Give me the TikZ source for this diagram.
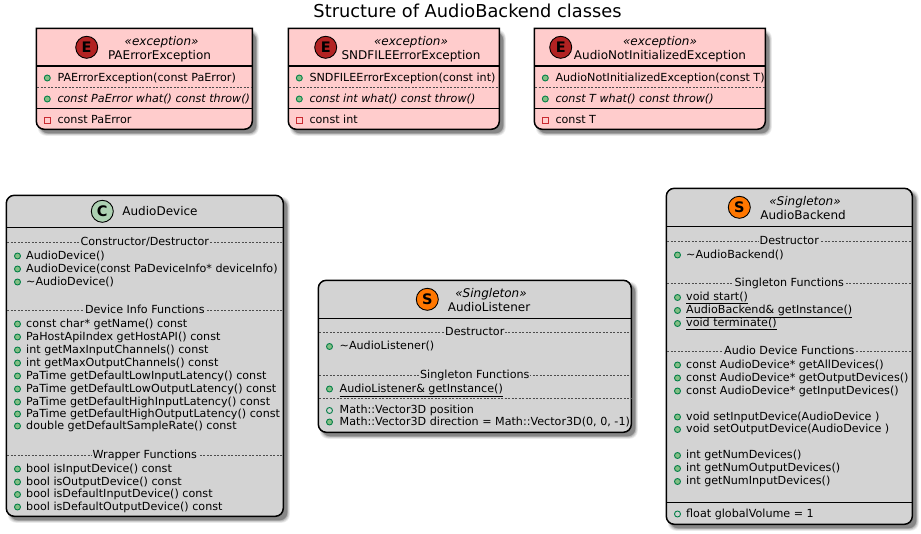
\documentclass[tikz,border=0pt]{standalone}
\usepackage{fontspec}
\setmainfont{DejaVu Sans}
\usetikzlibrary{calc}
\definecolor{exfill}{HTML}{FFCCCC}
\definecolor{grayfill}{HTML}{D3D3D3}
\definecolor{pubfill}{HTML}{84BE84}
\definecolor{publine}{HTML}{038048}
\definecolor{privline}{HTML}{C82930}
\definecolor{spotE}{HTML}{B22222}
\definecolor{spotS}{HTML}{FF7700}
\definecolor{spotC}{HTML}{ADD1B2}
\newcounter{tn}
\tikzset{
  x=1pt,y=-1pt,
  boxline/.style={draw=black,line width=1.5pt},
  headline/.style={draw=black,line width=1.4pt},
  solidsep/.style={draw=black,line width=1pt},
  dashsep/.style={draw=black!70,line width=.6pt,dash pattern=on 2pt off 1.5pt},
  memtext/.style={anchor=base west,inner sep=0pt,font=\fontsize{11.15}{13}\selectfont,text=black},
  nametext/.style={anchor=base,inner sep=0pt,font=\fontsize{12}{14}\selectfont,text=black},
  stereotext/.style={anchor=base,inner sep=0pt,font=\fontsize{12}{14}\selectfont\itshape,text=black},
  sectext/.style={anchor=center,inner sep=1pt,text height=8pt,text depth=2pt,font=\fontsize{11.15}{13}\selectfont,text=black},
  spotnode/.style={circle,draw=black,line width=.9pt,minimum size=22pt,inner sep=0pt,font=\fontsize{14.5}{15}\selectfont\bfseries,text=black},
  pubm/.style={circle,draw=publine,fill=pubfill,line width=.9pt,minimum size=6pt,inner sep=0pt},
  pubf/.style={circle,draw=publine,line width=.9pt,minimum size=6pt,inner sep=0pt},
  privf/.style={rectangle,draw=privline,line width=.9pt,minimum size=6pt,inner sep=0pt},
  titletext/.style={inner sep=0pt,font=\fontsize{17.8}{20}\selectfont,text=black}
}
% soft shadow of a box
\newcommand{\softshadow}[4]{%
  \foreach \d/\o in {2.5/.07,1.8/.09,1.1/.12,.4/.15,0/.17}{%
    \fill[black,opacity=\o,rounded corners=8pt]
      ({#1+4-\d},{#2+4-\d}) rectangle ({#3+4+\d},{#4+4+\d});}%
}
% rounded box
\newcommand{\roundbox}[6]{% name x0 y0 x1 y1 fill
  \softshadow{#2}{#3}{#4}{#5}
  \path[boxline,fill=#6,rounded corners=8pt] (#2,#3) rectangle (#4,#5);
  \coordinate (#1) at ({(#2+#4)/2},{(#3+#5)/2});}
% square-top box
\newcommand{\exbox}[5]{% name x0 y0 x1 y1
  \softshadow{#2}{#3}{#4}{#5}
  \path[boxline,fill=exfill] (#2,#3) -- (#4,#3) [rounded corners=8pt] -- (#4,#5) -- (#2,#5) [sharp corners] -- cycle;
  \coordinate (#1) at ({(#2+#4)/2},{(#3+#5)/2});}
\newcommand{\hln}[4][solidsep]{\draw[#1] (#2,#4) -- (#3,#4);}
\newcommand{\spot}[4]{\stepcounter{tn}\node[spotnode,fill=#4] (n\thetn) at (#1,#2) {#3};}
\newcommand{\lbl}[4]{\stepcounter{tn}\node[#1] (n\thetn) at (#2,#3) {#4};}
% member: bullet style, bullet x, text x, centre y, text
\newcommand{\mem}[5]{\stepcounter{tn}\node[#1] (n\thetn) at (#2,{#4+1}) {};%
  \stepcounter{tn}\node[memtext] (n\thetn) at (#3,{#4+4}) {#5};}
% section: x0 x1 y text fill
\newcommand{\sect}[5]{\draw[dashsep] ({#1+1},#3) -- ({#2-1},#3);%
  \stepcounter{tn}\node[sectext,fill=#5] (n\thetn) at ({(#1+#2)/2},#3) {#4};}
\begin{document}
\begin{tikzpicture}
\useasboundingbox (0,0) rectangle (921,533);
\lbl{titletext}{467.5}{11}{Structure of AudioBackend classes}

% PAErrorException
\exbox{pa}{36.3}{28.3}{252.3}{129.3}
\hln[headline]{36.3}{252.3}{66}
\spot{86.7}{47.3}{E}{spotE}
\lbl{stereotext}{161.6}{45}{«exception»}
\lbl{nametext}{159.5}{59}{PAErrorException}
\mem{pubm}{47.3}{57.3}{77}{PAErrorException(const PaError)}
\hln[dashsep]{37}{252}{87.3}
\mem{pubm}{47.3}{57.3}{98}{\itshape const PaError what() const throw()}
\hln{36.3}{252.3}{108.3}
\mem{privf}{47.3}{57.3}{119}{const PaError}

% SNDFILEErrorException
\exbox{snd}{288.3}{28.3}{499.3}{129.3}
\hln[headline]{288.3}{499.3}{66}
\spot{325.7}{47.3}{E}{spotE}
\lbl{stereotext}{411}{45}{«exception»}
\lbl{nametext}{411}{59}{SNDFILEErrorException}
\mem{pubm}{299.3}{309.3}{77}{SNDFILEErrorException(const int)}
\hln[dashsep]{289}{499}{87.3}
\mem{pubm}{299.3}{309.3}{98}{\itshape const int what() const throw()}
\hln{288.3}{499.3}{108.3}
\mem{privf}{299.3}{309.3}{119}{const int}

% AudioNotInitializedException
\exbox{ani}{534.3}{28.3}{765.3}{129.3}
\hln[headline]{534.3}{765.3}{66}
\spot{560.7}{47.3}{E}{spotE}
\lbl{stereotext}{660}{45}{«exception»}
\lbl{nametext}{660}{59}{AudioNotInitializedException}
\mem{pubm}{545.3}{555.3}{77}{AudioNotInitializedException(const T)}
\hln[dashsep]{535}{765}{87.3}
\mem{pubm}{545.3}{555.3}{98}{\itshape const T what() const throw()}
\hln{534.3}{765.3}{108.3}
\mem{privf}{545.3}{555.3}{119}{const T}

% AudioDevice
\roundbox{dev}{6.3}{195.3}{283.3}{516.3}{grayfill}
\hln[headline]{6.3}{283.3}{227.3}
\spot{102.3}{211.3}{C}{spotC}
\lbl{nametext}{160}{215.5}{AudioDevice}
\sect{6.3}{283.3}{242.3}{Constructor/Destructor}{grayfill}
\mem{pubm}{17.5}{26}{255}{AudioDevice()}
\mem{pubm}{17.5}{26}{268}{AudioDevice(const PaDeviceInfo* deviceInfo)}
\mem{pubm}{17.5}{26}{281}{\textasciitilde AudioDevice()}
\sect{6.3}{283.3}{310}{Device Info Functions}{grayfill}
\mem{pubm}{17.5}{26}{323}{const char* getName() const}
\mem{pubm}{17.5}{26}{336}{PaHostApiIndex getHostAPI() const}
\mem{pubm}{17.5}{26}{349}{int getMaxInputChannels() const}
\mem{pubm}{17.5}{26}{362}{int getMaxOutputChannels() const}
\mem{pubm}{17.5}{26}{375}{PaTime getDefaultLowInputLatency() const}
\mem{pubm}{17.5}{26}{388}{PaTime getDefaultLowOutputLatency() const}
\mem{pubm}{17.5}{26}{401}{PaTime getDefaultHighInputLatency() const}
\mem{pubm}{17.5}{26}{413}{PaTime getDefaultHighOutputLatency() const}
\mem{pubm}{17.5}{26}{425}{double getDefaultSampleRate() const}
\sect{6.3}{283.3}{455}{Wrapper Functions}{grayfill}
\mem{pubm}{17.5}{26}{468}{bool isInputDevice() const}
\mem{pubm}{17.5}{26}{481}{bool isOutputDevice() const}
\mem{pubm}{17.5}{26}{493.5}{bool isDefaultInputDevice() const}
\mem{pubm}{17.5}{26}{506}{bool isDefaultOutputDevice() const}

% AudioListener
\roundbox{lis}{318.3}{280.3}{631.3}{432.3}{grayfill}
\hln[headline]{318.3}{631.3}{318.3}
\spot{427.3}{299.3}{S}{spotS}
\lbl{stereotext}{491}{297}{«Singleton»}
\lbl{nametext}{489}{311}{AudioListener}
\sect{318.3}{631.3}{332}{Destructor}{grayfill}
\mem{pubm}{329.5}{339.5}{345.5}{\textasciitilde AudioListener()}
\sect{318.3}{631.3}{375}{Singleton Functions}{grayfill}
\mem{pubm}{329.5}{339.5}{388}{\underline{AudioListener\& getInstance()}}
\hln[dashsep]{319}{631}{398.3}
\mem{pubf}{329.5}{339.5}{409.5}{Math::Vector3D position}
\mem{pubm}{329.5}{339.5}{421}{Math::Vector3D direction = Math::Vector3D(0, 0, -1)}

% AudioBackend
\roundbox{bak}{666.3}{188.3}{912.3}{524.3}{grayfill}
\hln[headline]{666.3}{912.3}{226.7}
\spot{739.3}{207.3}{S}{spotS}
\lbl{stereotext}{805}{205}{«Singleton»}
\lbl{nametext}{803}{219}{AudioBackend}
\sect{666.3}{912.3}{241}{Destructor}{grayfill}
\mem{pubm}{677.5}{686}{254}{\textasciitilde AudioBackend()}
\sect{666.3}{912.3}{283}{Singleton Functions}{grayfill}
\mem{pubm}{677.5}{686}{296.5}{\underline{void start()}}
\mem{pubm}{677.5}{686}{309.5}{\underline{AudioBackend\& getInstance()}}
\mem{pubm}{677.5}{686}{322.5}{\underline{void terminate()}}
\sect{666.3}{912.3}{351}{Audio Device Functions}{grayfill}
\mem{pubm}{677.5}{686}{364}{const AudioDevice* getAllDevices()}
\mem{pubm}{677.5}{686}{377}{const AudioDevice* getOutputDevices()}
\mem{pubm}{677.5}{686}{390}{const AudioDevice* getInputDevices()}
\mem{pubm}{677.5}{686}{416}{void setInputDevice(AudioDevice )}
\mem{pubm}{677.5}{686}{428.5}{void setOutputDevice(AudioDevice )}
\mem{pubm}{677.5}{686}{454.5}{int getNumDevices()}
\mem{pubm}{677.5}{686}{467.5}{int getNumOutputDevices()}
\mem{pubm}{677.5}{686}{480.5}{int getNumInputDevices()}
\hln{666.3}{912.3}{502.7}
\mem{pubf}{677.5}{686}{513}{float globalVolume = 1}
\end{tikzpicture}
\end{document}
